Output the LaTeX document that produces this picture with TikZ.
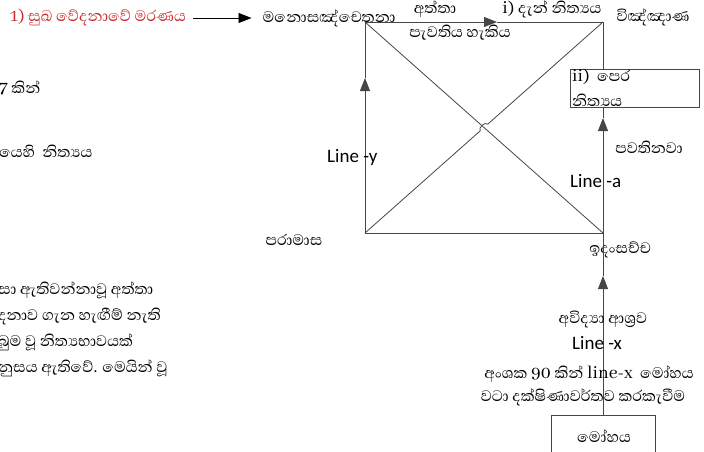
\documentclass[tikz,border=0pt]{standalone}
\usepackage{fontspec}
\usepackage{xcolor}
\usepackage{tikz}
\usetikzlibrary{arrows.meta, positioning, calc}
\newfontfamily\sinhfont[Script=Sinhala]{Abhaya Libre}
\newfontfamily\calibfont{Carlito}
\definecolor{sukhared}{RGB}{200, 40, 40}
\definecolor{edgegray}{RGB}{70, 70, 70}

\begin{document}
\begin{tikzpicture}[
    x=1pt, y=-1pt,
    lbl/.style={inner sep=1pt, font=\sinhfont\fontsize{19.5}{23}\selectfont},
    linelbl/.style={inner sep=0pt, anchor=west, font=\calibfont\fontsize{19}{21}\selectfont},
    arrow/.style={-{Triangle[length=13pt, width=10pt]}},
    edge/.style={draw=edgegray, line width=0.8pt},
    box/.style={rectangle, draw=edgegray, line width=0.8pt, fill=white}
]
    \useasboundingbox (0,0) rectangle (704,452);

    % Square corners
    \coordinate (tl) at (365,22);
    \coordinate (tr) at (603,22);
    \coordinate (bl) at (365,233);
    \coordinate (br) at (603,233);
    \coordinate (ctr) at ($(tl)!0.5!(br)$);
    \coordinate (hopA) at ($(ctr)!5pt!(bl)$);
    \coordinate (hopB) at ($(ctr)!5pt!(tr)$);
    \coordinate (topTip) at (497,22);
    \coordinate (leftTip) at (365,78);
    \coordinate (rightTip) at (603,118);
    \coordinate (lowTip) at (603,276);

    % Square and diagonals
    \draw[edge, arrow] (tl) -- (topTip);
    \draw[edge] (topTip) -- (tr);
    \draw[edge] (bl) -- (br);
    \draw[edge, arrow] (bl) -- (leftTip);
    \draw[edge] (leftTip) -- (tl);
    \draw[edge, arrow] (br) -- (rightTip);
    \draw[edge] (rightTip) -- (tr);
    \draw[edge] (tl) -- (br);
    \draw[edge] (bl) -- (hopA) to[bend left=90] (hopB) -- (tr);

    % Top labels
    \node[lbl, text=sukhared] (sukha) at (98,18) {1) සුඛ වේදනාවේ මරණය};
    \node[lbl] (mano) at (329,18) {මනොසඤ්චෙතනා};
    \node[lbl] (atta) at (435,9) {අත්තා};
    \node[lbl] (dan) at (552,9) {i) දැන් නිත්^^^^200dයය};
    \node[lbl] (vinna) at (653,17) {විඤ්ඤාණ};
    \node[lbl] (pavati) at (460,33) {පැවතිය හැකිය};

    % Right side
    \node[box, anchor=north west, minimum width=129, minimum height=38] (pera) at (570,69) {};
    \node[lbl, anchor=north west, align=left, font=\sinhfont\fontsize{19.5}{25}\selectfont] (peratxt) at (571,68) {ii)\ \ පෙර\\නිත්^^^^200dයය};
    \node[lbl] (pavatina) at (649,147) {පවතිනවා};
    \node[linelbl] (linea) at (570,181) {Line -a};
    \node[lbl] (idam) at (620,250) {ඉදංසච්ච};

    % Left side
    \node[linelbl] (liney) at (327,157) {Line -y};
    \node[lbl] (parama) at (294,240) {පරාමාස};

    % Lower part
    \node[box, minimum width=104, minimum height=46] (moha) at (603,438) {};
    \node[lbl] (mohatxt) at (604,436) {මෝහය};
    \draw[edge, arrow] (moha.north) -- (lowTip);
    \draw[edge] (lowTip) -- (br);
    \node[lbl] (avidya) at (603,320) {අවිද්^^^^200dයා ආශ්^^^^200dරව};
    \node[linelbl] (linex) at (572,343) {Line -x};
    \node[lbl] (amsaka) at (589,374) {අංශක 90 කින් line-x\ \ මෝහය};
    \node[lbl] (vata) at (583,397) {වටා දක්ෂිණාවර්තව කරකැවීම};

    % Cut-off text on the left
    \node[lbl, anchor=west] (sevenkin) at (-2,88) {7 කින්};
    \node[lbl, anchor=west] (yehi) at (-2,151) {යෙහි\ \ නිත්^^^^200dයය};
    \node[lbl, anchor=north west, align=left, font=\sinhfont\fontsize{19.5}{26}\selectfont] (para) at (-3,281)
        {සා ඇතිවන්නාවූ අත්තා\\දනාව ගැන හැඟීම් නැති\\බුම වූ නිත්^^^^200dයභාවයක්\\නුසය ඇතිවේ. මෙයින් වූ};

    % Red arrow
    \draw[edge, draw=black, arrow, shorten <=6pt, shorten >=10pt] (sukha) -- (mano);
\end{tikzpicture}
\end{document}
